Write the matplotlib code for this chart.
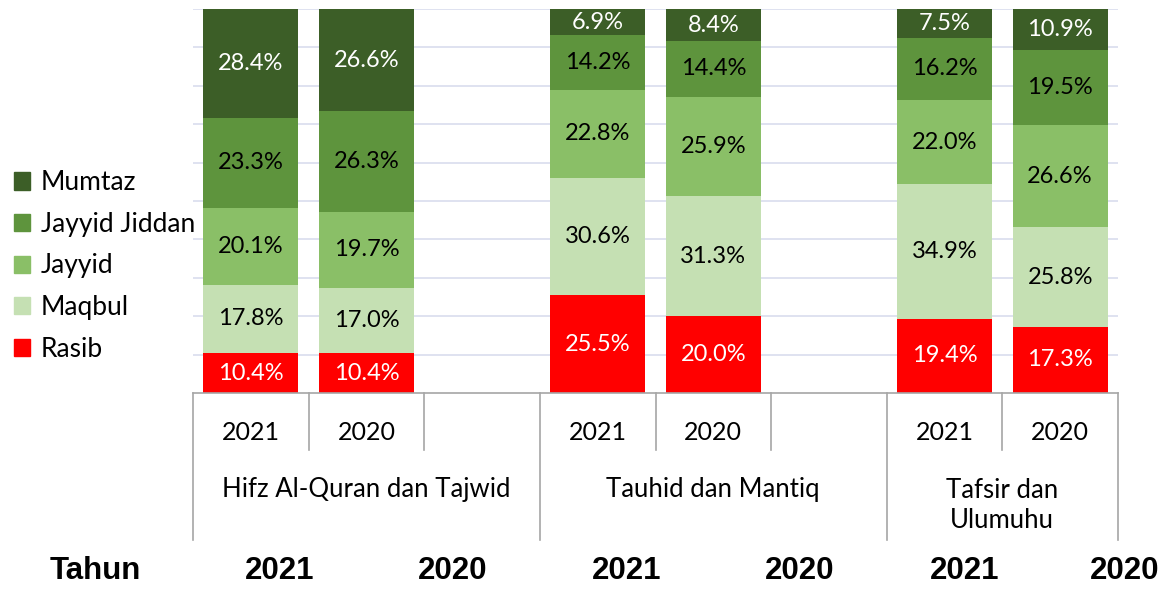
import matplotlib.pyplot as plt
from matplotlib.patches import Patch
import numpy as np

# Data (percent per grade, bottom to top)
subjects = ["Hifz Al-Quran dan Tajwid", "Tauhid dan Mantiq", "Tafsir dan\nUlumuhu"]
years = ["2021", "2020"]
grades = ["Rasib", "Maqbul", "Jayyid", "Jayyid Jiddan", "Mumtaz"]
rasib = [10.4, 10.4, 25.5, 20.0, 19.4, 17.3]
maqbul = [17.8, 17.0, 30.6, 31.3, 34.9, 25.8]
jayyid = [20.1, 19.7, 22.8, 25.9, 22.0, 26.6]
jayyid_jiddan = [23.3, 26.3, 14.2, 14.4, 16.2, 19.5]
mumtaz = [28.4, 26.6, 6.9, 8.4, 7.5, 10.9]
table_label = "Tahun"
table_years = ["2021", "2020", "2021", "2020", "2021", "2020"]

colors = ["#FF0000", "#C5E0B3", "#8ABF67", "#5E943D", "#3C5E27"]
text_colors = ["white", "black", "black", "black", "white"]

# slot positions: two bars per subject, an empty slot between subjects
slots = [0, 1, 3, 4, 6, 7]
subject_centers = [1, 4, 6.5]

plt.rcParams["font.family"] = ["Lato", "DejaVu Sans"]
fig = plt.figure(figsize=(11.64, 5.90), dpi=100)
W, H = 1164, 590
ax = fig.add_axes([193 / W, 1 - 393 / H, (1118 - 193) / W, (393 - 9) / H])

series = [rasib, maqbul, jayyid, jayyid_jiddan, mumtaz]
bottom = np.zeros(len(slots))
for vals, col, tcol in zip(series, colors, text_colors):
    vals = np.array(vals)
    ax.bar(slots, vals, bottom=bottom, width=0.82, color=col, zorder=2)
    for x, b, v in zip(slots, bottom, vals):
        ax.text(x, b + v / 2, f"{v:.1f}%", ha="center", va="center",
                fontsize=17, color=tcol, zorder=3)
    bottom += vals

ax.set_xlim(-0.5, 7.5)
ax.set_ylim(0, 100)
ax.set_yticks(np.arange(10, 101, 10))
ax.yaxis.grid(True, color="#D9DDEE", linewidth=1.2, zorder=0)
ax.tick_params(left=False, labelleft=False, bottom=False, labelbottom=False)
for s in ["top", "right", "left"]:
    ax.spines[s].set_visible(False)
ax.spines["bottom"].set_color("#A6A6A6")
ax.spines["bottom"].set_linewidth(1.2)

# multi-level category axis (pixel offsets below the axis, as axes fraction)
def below(px):
    return -(px - 393) / (393 - 9)

trans = ax.get_xaxis_transform()
line_kw = dict(color="#A6A6A6", linewidth=1.2, clip_on=False, transform=trans)
for x in [-0.5, 2.5, 5.5, 7.5]:
    ax.plot([x, x], [0, below(540)], **line_kw)
for x in [0.5, 1.5, 3.5, 4.5, 6.5]:
    ax.plot([x, x], [0, below(450)], **line_kw)
for x, yr in zip(slots, years * 3):
    ax.text(x, below(432), yr, ha="center", va="center", fontsize=18, transform=trans)
for x, s in zip(subject_centers, subjects):
    ypx = 506 if "\n" in s else 490
    ax.text(x, below(ypx), s, ha="center", va="center", fontsize=18.5,
            linespacing=1.25, transform=trans)

# legend
handles = [Patch(color=c, label=g) for g, c in zip(grades, colors)][::-1]
fig.legend(handles=handles, loc="center left", bbox_to_anchor=(0.005, 1 - 266 / H),
           frameon=False, fontsize=19, handlelength=0.62, handleheight=0.62,
           handletextpad=0.4, labelspacing=0.63, borderaxespad=0.3,
           borderpad=0.0)

# bottom table row
row_y = 1 - 571 / H
fig.text(95 / W, row_y, table_label, ha="center", va="center", fontsize=22.5,
         fontweight="bold", family="Liberation Sans")
for x, yr in zip([280, 453, 627, 800, 965, 1125], table_years):
    fig.text(x / W, row_y, yr, ha="center", va="center", fontsize=22.5,
             fontweight="bold", family="Liberation Sans")

fig.savefig("out.png", dpi=100)
